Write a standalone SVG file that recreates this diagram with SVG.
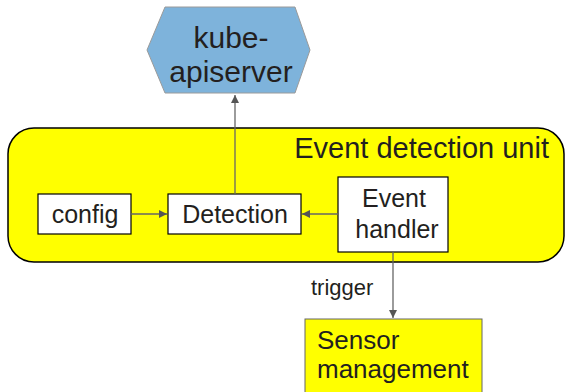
<svg xmlns="http://www.w3.org/2000/svg" width="566" height="392" viewBox="0 0 566 392">
  <defs>
    <marker id="arrow" viewBox="0 0 10 10" refX="10" refY="5" markerWidth="8" markerHeight="8" markerUnits="userSpaceOnUse" orient="auto">
      <path d="M0,0 L10,5 L0,10 z" fill="#555"/>
    </marker>
    <style>
      text { font-family: "Liberation Sans", Arial, sans-serif; fill: #231f20; }
      .box { fill: #ffffff; stroke: #000000; stroke-width: 1.2; }
      .lbl { font-size: 25px; text-anchor: middle; }
      .edge { stroke: #666666; stroke-width: 1.3; fill: none; marker-end: url(#arrow); }
    </style>
  </defs>
  <rect width="566" height="392" fill="#ffffff"/>

  <g id="event-detection-unit">
    <rect x="8" y="128" width="556" height="134" rx="26" ry="26" fill="#ffff00" stroke="#000000" stroke-width="1.5"/>
    <text x="549" y="158" font-size="29" text-anchor="end">Event detection unit</text>
  </g>

  <g id="kube-apiserver">
    <polygon points="147,50 165,7 295,7 310,50 295,93 165,93" fill="#7eb3db" stroke="#9a9a9a" stroke-width="1"/>
    <text x="231" y="48" font-size="30" text-anchor="middle">kube-</text>
    <text x="231" y="82" font-size="30" text-anchor="middle">apiserver</text>
  </g>

  <g id="config">
    <rect class="box" x="38" y="194" width="93" height="40"/>
    <text class="lbl" x="85" y="223">config</text>
  </g>

  <g id="detection">
    <rect class="box" x="168" y="194" width="133" height="40"/>
    <text class="lbl" x="235" y="223">Detection</text>
  </g>

  <g id="event-handler">
    <rect class="box" x="338" y="177" width="110" height="75"/>
    <text class="lbl" x="394" y="207">Event</text>
    <text class="lbl" x="397" y="238">handler</text>
  </g>

  <g id="sensor-management">
    <rect x="305" y="319" width="177" height="80" fill="#ffff00" stroke="#666666" stroke-width="1"/>
    <text x="317" y="349" font-size="26">Sensor</text>
    <text x="317" y="378" font-size="26">management</text>
  </g>

  <g id="connectors">
    <line class="edge" x1="131" y1="214" x2="167" y2="214"/>
    <line class="edge" x1="338" y1="214" x2="302" y2="214"/>
    <line class="edge" x1="235" y1="194" x2="235" y2="95"/>
    <line class="edge" x1="393" y1="252" x2="393" y2="318"/>
    <text x="311" y="295" font-size="22">trigger</text>
  </g>
</svg>
